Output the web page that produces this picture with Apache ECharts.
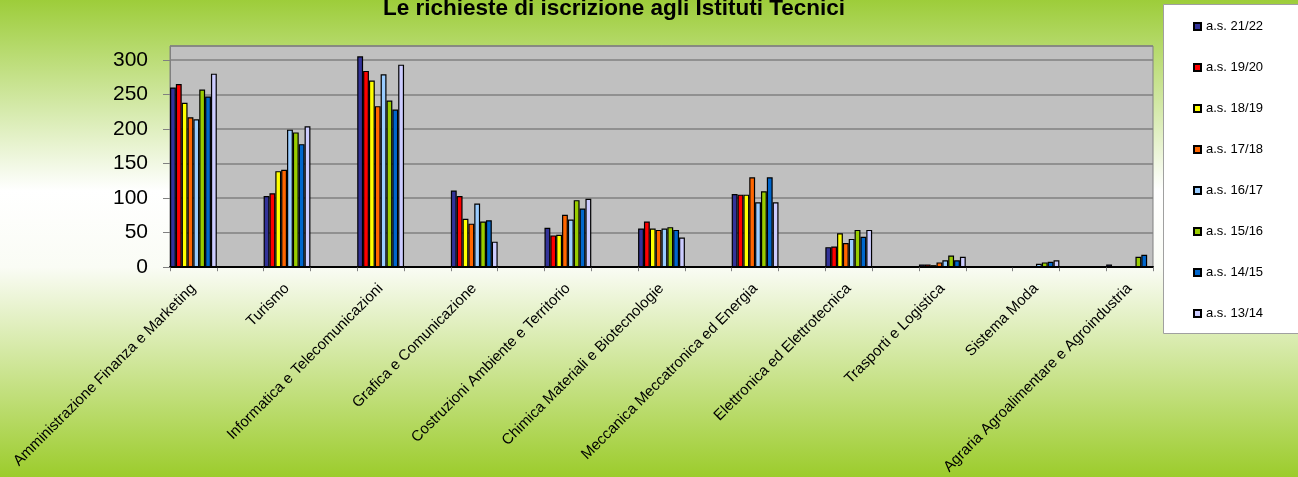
<!DOCTYPE html>
<html>
<head>
<meta charset="utf-8">
<title>Istituti Tecnici</title>
<script src="https://cdn.jsdelivr.net/npm/echarts@6/dist/echarts.min.js"></script>
<style>
  html, body { margin: 0; padding: 0; }
  #chart { width: 1298px; height: 477px; }
</style>
</head>
<body>
<div id="chart"></div>
<script>
// indirizzi (una colonna vuota tra uno e l'altro, come nel grafico originale)
var indirizzi = ['Amministrazione Finanza e Marketing', 'Turismo', 'Informatica e Telecomunicazioni',
    'Grafica e Comunicazione', 'Costruzioni Ambiente e Territorio', 'Chimica Materiali e Biotecnologie',
    'Meccanica Meccatronica ed Energia', 'Elettronica ed Elettrotecnica', 'Trasporti e Logistica',
    'Sistema Moda', 'Agraria Agroalimentare e Agroindustria'];

var anni = ['a.s. 21/22', 'a.s. 19/20', 'a.s. 18/19', 'a.s. 17/18', 'a.s. 16/17', 'a.s. 15/16', 'a.s. 14/15', 'a.s. 13/14'];

var as2122 = [260, 103, 305, 111, 57, 56, 106, 29, 4, 0, 4];
var as1920 = [265, 107, 284, 103, 46, 66, 105, 30, 4, 0, 0];
var as1819 = [238, 139, 270, 70, 47, 56, 105, 49, 3, 0, 0];
var as1718 = [217, 141, 233, 63, 76, 54, 130, 35, 7, 0, 0];
var as1617 = [214, 199, 279, 92, 69, 56, 94, 41, 10, 5, 0];
var as1516 = [257, 195, 241, 66, 97, 58, 110, 54, 17, 7, 15];
var as1415 = [247, 178, 228, 68, 85, 54, 130, 44, 10, 8, 18];
var as1314 = [280, 204, 293, 37, 99, 43, 94, 54, 15, 10, 0];

var colori = ['#333399', '#ff0000', '#ffff00', '#ff6600', '#99ccff', '#99cc00', '#0066cc', '#ccccff'];

// costruisce le 21 colonne: indirizzo, vuoto, indirizzo, ...
function spaziato(arr, vuoto) {
    var out = [];
    for (var i = 0; i < arr.length; i++) {
        if (i > 0) out.push(vuoto);
        out.push(arr[i]);
    }
    return out;
}

var chart = echarts.init(document.getElementById('chart'));
var valori = [as2122, as1920, as1819, as1718, as1617, as1516, as1415, as1314];
var series = [];
for (var k = 0; k < anni.length; k++) {
    series.push({
        name: anni[k],
        type: 'bar',
        data: spaziato(valori[k], 0),
        barGap: '0%',
        barCategoryGap: '0%',
        itemStyle: { color: colori[k], borderColor: '#000', borderWidth: 1.2 },
        emphasis: { disabled: true }
    });
}

var option = {
    backgroundColor: {
        type: 'linear', x: 0, y: 0, x2: 0, y2: 1,
        colorStops: [
            { offset: 0, color: '#9dcd3a' },
            { offset: 0.40, color: '#ffffff' },
            { offset: 0.56, color: '#fafcf5' },
            { offset: 1, color: '#9ccc2c' }
        ]
    },
    animation: false,
    title: {
        text: 'Le richieste di iscrizione agli Istituti Tecnici',
        left: 614,
        textAlign: 'center',
        top: -3,
        padding: 0,
        textStyle: { fontFamily: 'Liberation Sans', fontSize: 22.5, fontWeight: 'bold', color: '#000' }
    },
    graphic: [{
        type: 'rect',
        z: 1,
        shape: { x: 1163.5, y: 4.5, width: 150, height: 329 },
        style: { fill: '#fff', stroke: '#a0a0a0', lineWidth: 1 }
    }],
    legend: {
        orient: 'vertical',
        left: 1188,
        top: 15,
        z: 5,
        itemWidth: 7,
        itemHeight: 7,
        itemGap: 28,
        icon: 'rect',
        textStyle: { fontFamily: 'Liberation Sans', fontSize: 13, color: '#000' },
        data: anni
    },
    grid: {
        left: 170, right: 145, top: 46, bottom: 209,
        show: true,
        backgroundColor: '#c0c0c0',
        borderColor: '#808080',
        borderWidth: 1
    },
    xAxis: {
        type: 'category',
        data: spaziato(indirizzi, ''),
        axisLine: { lineStyle: { color: '#000', width: 2 } },
        axisTick: { show: true, length: 4, lineStyle: { color: '#808080' } },
        axisLabel: {
            interval: 0,
            rotate: 45,
            margin: 19,
            fontFamily: 'Liberation Sans',
            fontSize: 15,
            color: '#000'
        }
    },
    yAxis: {
        type: 'value',
        min: 0,
        max: 320,
        interval: 50,
        axisLine: { show: true, lineStyle: { color: '#808080' } },
        axisTick: { show: true, length: 7, lineStyle: { color: '#808080' } },
        axisLabel: {
            margin: 22,
            fontFamily: 'Liberation Sans',
            fontSize: 21,
            color: '#000',
            showMaxLabel: false
        },
        splitLine: { lineStyle: { color: '#808080', width: 1.5 } }
    },
    series: series
};
chart.setOption(option);
</script>
</body>
</html>
